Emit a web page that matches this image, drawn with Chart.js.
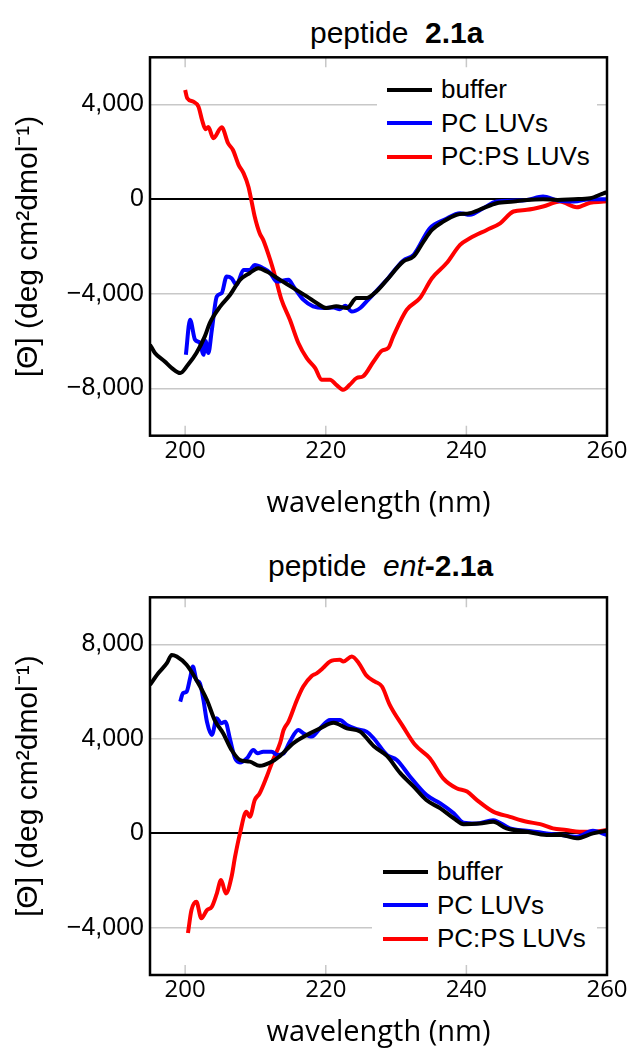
<!DOCTYPE html>
<html>
<head>
<meta charset="utf-8">
<script src="https://cdn.jsdelivr.net/npm/chart.js@4"></script>
<style>
  body { margin: 0; background: #fff; }
  #page { position: relative; width: 631px; height: 1050px; font-family: "Liberation Sans", Arial, sans-serif; color: #000; }
  .box { position: absolute; left: 0; width: 631px; height: 525px; }
  .title { position: absolute; font-size: 30px; line-height: 30px; white-space: pre; }
  .legend { position: absolute; background: #fff; font-size: 26px; }
  .legend .row { height: 33.5px; display: flex; align-items: center; }
  .legend .sw { display: inline-block; width: 45px; height: 4px; margin-right: 9px; }
</style>
</head>
<body>
<div id="page">
  <div class="title" style="left:310px; top:17.5px;">peptide  <b>2.1a</b></div>
  <div class="box" style="top:0"><canvas id="chartA" width="631" height="525"></canvas></div>
  <div class="legend" id="legendA" style="left:377px; top:73px; width:220px; padding-left:10px; box-sizing:border-box;"></div>

  <div class="title" style="left:268px; top:550.5px;">peptide  <i>ent</i><b>-2.1a</b></div>
  <div class="box" style="top:525px"><canvas id="chartB" width="631" height="525"></canvas></div>
  <div class="legend" id="legendB" style="left:372px; top:855px; width:225px; padding-left:11px; box-sizing:border-box;"></div>
</div>
<script>
var xTicks = [200, 220, 240, 260]
var yTicksA = [-8000, -4000, 0, 4000]
var yTicksB = [-4000, 0, 4000, 8000]
var seriesLabels = ['buffer', 'PC LUVs', 'PC:PS LUVs']
var seriesColors = ['#000000', '#0000ff', '#ff0000']

// peptide 2.1a
var bufferA_nm = [195, 195.7, 197.1, 198.1, 199.3, 200.4, 201.6, 202.8, 203.5, 205, 206.4, 207.8, 209.2, 210.4, 211.6, 213.5, 215.4, 217.3, 218.7, 220.1, 221.5, 223, 224.4, 225.8, 227.2, 228.7, 231, 232.5, 233.9, 235.1, 236.7, 238.6, 240.5, 242.4, 244.3, 246.7, 248.6, 250.9, 253, 255.3, 257.6, 259.5, 260]
var bufferA = [-6150, -6500, -6860, -7140, -7350, -7000, -6500, -5800, -5240, -4530, -4040, -3410, -3120, -2920, -3060, -3410, -3760, -4110, -4390, -4600, -4530, -4600, -4180, -4180, -3900, -3410, -2640, -2420, -1790, -1300, -950, -660, -590, -380, -170, -100, -30, 0, -30, 0, 40, 250, 300]
var pcA_nm = [200.1, 200.7, 201.4, 202.1, 202.6, 202.9, 203.3, 203.8, 204.5, 205.2, 205.9, 206.6, 207.3, 208.3, 209.2, 209.9, 211.1, 212.1, 213, 214.7, 215.4, 216.8, 218.2, 219.7, 221.1, 222, 222.8, 223.7, 224.9, 225.8, 228.7, 231, 232.5, 234.8, 237, 239.1, 240.5, 242.4, 244.3, 246.7, 248.6, 250.9, 253, 255.3, 257.6, 260]
var pcA = [-6580, -5100, -5940, -6080, -6580, -6000, -6500, -5520, -4110, -3970, -3270, -3340, -3620, -2990, -2990, -2780, -2920, -3120, -3480, -3410, -3690, -4250, -4530, -4600, -4580, -4650, -4500, -4750, -4600, -4320, -3400, -2600, -2350, -1230, -850, -590, -660, -380, -100, -60, -30, 110, -60, -100, 0, 0]
var pcpsA_nm = [200, 200.3, 201.2, 201.9, 202.4, 202.9, 203.3, 204, 205.2, 206.1, 206.8, 207.6, 208.3, 209, 209.5, 209.9, 210.6, 211.1, 212.1, 212.8, 213.7, 214.9, 216.1, 217.3, 218.5, 219.4, 220.6, 221.5, 222.5, 223.4, 224.4, 225.3, 226.8, 228, 228.9, 229.6, 231.5, 233.4, 235.1, 237.2, 239.1, 240.5, 242.9, 244.8, 246.7, 248.6, 250.9, 253.3, 255.7, 257.6, 259.5, 260]
var pcpsA = [4620, 4270, 4120, 3910, 3350, 2960, 3050, 2580, 3040, 2370, 2080, 1450, 1100, 530, -170, -740, -1440, -1720, -2570, -3270, -4250, -5100, -6080, -6720, -7140, -7630, -7630, -7850, -8060, -7850, -7560, -7490, -6860, -6400, -6290, -5800, -4680, -4180, -3340, -2700, -1930, -1650, -1300, -1020, -520, -450, -310, -100, -340, -150, -100, -80]

// peptide ent-2.1a
var bufferB_nm = [195, 196.2, 197.4, 198.1, 198.8, 200.2, 201.6, 203.1, 204.2, 205.4, 206.6, 207.8, 209.2, 210.6, 212.1, 213.5, 215.4, 217.3, 219.2, 221.1, 223, 224.9, 226.8, 228.7, 230.6, 232.5, 234.3, 236.3, 238.2, 239.6, 241.9, 243.8, 245.7, 248.6, 251.4, 253.5, 255.7, 258, 260]
var bufferB = [6290, 6790, 7210, 7560, 7490, 7140, 6500, 5650, 4800, 4240, 3530, 3110, 3040, 2860, 3000, 3280, 3820, 4170, 4450, 4690, 4450, 4310, 3700, 3280, 2550, 1980, 1410, 1060, 640, 390, 420, 490, 210, 70, -70, -70, -210, 0, 110]
var pcB_nm = [199.3, 199.7, 200.2, 200.7, 201.1, 201.6, 202.1, 202.6, 203.1, 203.8, 204.5, 205.1, 205.7, 206.4, 207.1, 207.8, 208.8, 209.7, 210.3, 211.1, 212.3, 213.1, 214, 214.9, 216.1, 216.8, 218, 219.2, 220.6, 222, 223, 224.4, 225.8, 226.8, 228.7, 230.1, 232, 234.3, 236.3, 238.2, 239.6, 241.4, 243.8, 246.2, 248.6, 251.4, 253.5, 255.7, 258, 260]
var pcB = [5580, 5940, 6000, 6570, 7070, 6500, 6360, 5650, 4730, 4170, 4880, 4660, 4730, 3960, 3180, 3000, 3180, 3530, 3390, 3460, 3460, 3320, 3390, 3890, 4380, 4240, 4100, 4450, 4800, 4800, 4590, 4410, 4310, 4030, 3320, 3110, 2400, 1630, 1270, 850, 450, 420, 560, 210, 110, 0, -70, -140, 110, -70]
var pcpsB_nm = [200.4, 200.9, 201.6, 202.3, 203.1, 203.8, 204.5, 205.1, 205.8, 206.6, 207.1, 207.8, 208.7, 209.2, 209.9, 210.6, 211.6, 212.5, 213.5, 214, 214.7, 215.9, 216.8, 218, 218.7, 219.6, 220.6, 222, 222.5, 223.7, 224.7, 225.8, 227, 228, 229.1, 231, 232.7, 234.8, 236.7, 238.6, 240.1, 241.5, 243.8, 246.2, 248.6, 250.5, 252.3, 254.2, 256.1, 258, 260]
var pcpsB = [-4220, -3250, -2900, -3600, -3250, -3110, -2550, -1980, -2550, -1840, -990, 0, 920, 700, 1410, 1700, 2400, 3110, 3820, 4380, 4730, 5650, 6220, 6670, 6780, 7000, 7280, 7350, 7280, 7490, 7210, 6680, 6430, 6220, 5440, 4520, 3750, 3180, 2330, 1910, 1770, 1410, 920, 700, 490, 390, 210, 140, 70, 70, 140]

function fmt(v){
    var s = Math.abs(v).toLocaleString('en-US')
    return v < 0 ? '\u2212' + s : s
}

// short inward ticks on top/bottom edge + black frame
var framePlugin = {
    id: 'frame',
    beforeDatasetsDraw: function(chart){
        var ctx = chart.ctx, a = chart.chartArea, x = chart.scales.x
        ctx.save()
        ctx.strokeStyle = '#c8c8c8'
        ctx.lineWidth = 1.5
        xTicks.forEach(function(v){
            var px = x.getPixelForValue(v)
            ctx.beginPath()
            ctx.moveTo(px, a.top); ctx.lineTo(px, a.top + 10)
            ctx.moveTo(px, a.bottom); ctx.lineTo(px, a.bottom - 10)
            ctx.stroke()
        })
        ctx.restore()
    },
    afterDraw: function(chart){
        var ctx = chart.ctx, a = chart.chartArea
        ctx.save()
        ctx.strokeStyle = '#000'
        ctx.lineWidth = 2.5
        ctx.strokeRect(a.left, a.top, a.right - a.left, a.bottom - a.top)
        ctx.restore()
    }
}

function setChart(id, sets, yTicks, yMin, yMax, padTop, xHeight, padBottom){
    var ctx = document.getElementById(id).getContext('2d')
    return new Chart(ctx, {
        type: 'line',
        data: {
            datasets: sets.map(function(s, i){
                return {
                    label: seriesLabels[i],
                    data: s[0].map(function(v, j){ return {x: v, y: s[1][j]} }),
                    borderColor: seriesColors[i],
                    borderWidth: 4,
                    pointRadius: 0,
                    cubicInterpolationMode: 'monotone',
                    fill: false
                }
            })
        },
        options: {
            responsive: false,
            animation: false,
            layout: { padding: { top: padTop, right: 24, left: 0, bottom: padBottom } },
            plugins: { legend: { display: false }, tooltip: { enabled: false } },
            scales: {
                x: {
                    type: 'linear', min: 195, max: 260,
                    afterBuildTicks: function(s){ s.ticks = xTicks.map(function(v){ return {value: v} }) },
                    afterFit: function(s){ s.height = xHeight },
                    grid: { display: false, drawTicks: false },
                    border: { display: false },
                    ticks: { font: { family: 'Open Sans', size: 24 }, color: '#000', padding: 1, maxRotation: 0 },
                    title: { display: true, text: 'wavelength (nm)', font: { family: 'Open Sans', size: 29 }, color: '#000', padding: 0 }
                },
                y: {
                    min: yMin, max: yMax,
                    afterBuildTicks: function(s){ s.ticks = yTicks.map(function(v){ return {value: v} }) },
                    afterFit: function(s){ s.width = 150 },
                    grid: {
                        drawTicks: false,
                        color: function(c){ return c.tick && c.tick.value === 0 ? '#000' : '#c8c8c8' },
                        lineWidth: function(c){ return c.tick && c.tick.value === 0 ? 2 : 1.5 }
                    },
                    border: { display: false },
                    ticks: { font: { family: 'Liberation Sans', size: 25 }, color: '#000', padding: 6, callback: fmt },
                    title: { display: true, text: '[\u0398] (deg cm\u00b2dmol\u207b\u00b9)', font: { family: 'Liberation Sans', size: 30 }, color: '#000', padding: { top: 11, bottom: 0 } }
                }
            }
        },
        plugins: [framePlugin]
    })
}

function setLegend(id){
    var el = document.getElementById(id)
    seriesLabels.forEach(function(l, i){
        var row = document.createElement('div')
        row.className = 'row'
        var sw = document.createElement('span')
        sw.className = 'sw'
        sw.style.background = seriesColors[i]
        row.appendChild(sw)
        row.appendChild(document.createTextNode(l))
        el.appendChild(row)
    })
}

setChart('chartA', [[bufferA_nm, bufferA], [pcA_nm, pcA], [pcpsA_nm, pcpsA]], yTicksA, -10000, 6000, 57.3, 85, 4.3)
setChart('chartB', [[bufferB_nm, bufferB], [pcB_nm, pcB], [pcpsB_nm, pcpsB]], yTicksB, -6000, 10000, 72.3, 75, 0)
setLegend('legendA')
setLegend('legendB')
</script>
</body>
</html>
